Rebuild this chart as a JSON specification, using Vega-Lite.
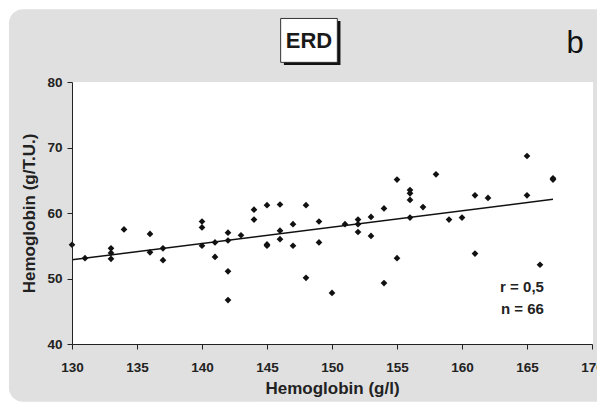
{
  "$schema": "https://vega.github.io/schema/vega-lite/v6.json",
  "width": 520,
  "height": 262,
  "autosize": {"type": "none"},
  "padding": {"left": 72, "top": 82, "right": 5, "bottom": 63},
  "background": "white",
  "config": {
    "view": {"stroke": null},
    "font": "Liberation Sans",
    "axis": {
      "grid": false,
      "domainColor": "#222222",
      "tickColor": "#222222",
      "tickSize": 5,
      "labelFont": "Liberation Sans",
      "labelFontWeight": "bold",
      "labelFontSize": 13.5,
      "labelColor": "#222222",
      "titleFont": "Liberation Sans",
      "titleFontWeight": "bold",
      "titleFontSize": 17,
      "titleColor": "#222222"
    }
  },
  "datasets": {
    "points": [
      {"hb": 130, "hbtu": 55.15}, {"hb": 131, "hbtu": 53.1}, {"hb": 133, "hbtu": 54.6},
      {"hb": 133, "hbtu": 53.9}, {"hb": 133, "hbtu": 53.0}, {"hb": 134, "hbtu": 57.5},
      {"hb": 136, "hbtu": 56.8}, {"hb": 136, "hbtu": 54.0}, {"hb": 137, "hbtu": 54.6},
      {"hb": 137, "hbtu": 52.8}, {"hb": 140, "hbtu": 58.7}, {"hb": 140, "hbtu": 57.8},
      {"hb": 140, "hbtu": 55.0}, {"hb": 141, "hbtu": 55.5}, {"hb": 141, "hbtu": 53.3},
      {"hb": 142, "hbtu": 57.0}, {"hb": 142, "hbtu": 55.8}, {"hb": 142, "hbtu": 51.1},
      {"hb": 142, "hbtu": 46.7}, {"hb": 143, "hbtu": 56.6}, {"hb": 144, "hbtu": 60.5},
      {"hb": 144, "hbtu": 59.0}, {"hb": 145, "hbtu": 61.2}, {"hb": 145, "hbtu": 55.2},
      {"hb": 145, "hbtu": 55.0}, {"hb": 146, "hbtu": 61.3}, {"hb": 146, "hbtu": 57.3},
      {"hb": 146, "hbtu": 56.0}, {"hb": 147, "hbtu": 58.3}, {"hb": 147, "hbtu": 55.0},
      {"hb": 148, "hbtu": 61.2}, {"hb": 148, "hbtu": 50.1}, {"hb": 149, "hbtu": 58.7},
      {"hb": 149, "hbtu": 55.5}, {"hb": 150, "hbtu": 47.8}, {"hb": 151, "hbtu": 58.3},
      {"hb": 152, "hbtu": 59.0}, {"hb": 152, "hbtu": 58.3}, {"hb": 152, "hbtu": 57.1},
      {"hb": 153, "hbtu": 59.4}, {"hb": 153, "hbtu": 56.5}, {"hb": 154, "hbtu": 60.7},
      {"hb": 154, "hbtu": 49.3}, {"hb": 155, "hbtu": 65.1}, {"hb": 155, "hbtu": 53.1},
      {"hb": 156, "hbtu": 63.5}, {"hb": 156, "hbtu": 63.0}, {"hb": 156, "hbtu": 62.0},
      {"hb": 156, "hbtu": 59.3}, {"hb": 157, "hbtu": 60.9}, {"hb": 158, "hbtu": 65.9},
      {"hb": 159, "hbtu": 59.0}, {"hb": 160, "hbtu": 59.3}, {"hb": 161, "hbtu": 62.7},
      {"hb": 161, "hbtu": 53.8}, {"hb": 162, "hbtu": 62.3}, {"hb": 165, "hbtu": 68.7},
      {"hb": 165, "hbtu": 62.7}, {"hb": 166, "hbtu": 52.1}, {"hb": 167, "hbtu": 65.3},
      {"hb": 167, "hbtu": 65.1}
    ],
    "fit": [
      {"hb": 130, "hbtu": 52.85},
      {"hb": 167, "hbtu": 62.1}
    ],
    "one": [{}]
  },
  "layer": [
    {
      "data": {"name": "one"},
      "mark": {"type": "rect", "fill": "#e0e0e0", "cornerRadius": 14, "clip": false},
      "encoding": {
        "x": {"datum": 125.15, "type": "quantitative", "scale": {"domain": [130, 170], "nice": false, "zero": false}},
        "x2": {"datum": 171.5},
        "y": {"datum": 91.1, "type": "quantitative", "scale": {"domain": [40, 80], "nice": false, "zero": false}},
        "y2": {"datum": 31.2}
      }
    },
    {
      "data": {"name": "one"},
      "mark": {"type": "rect", "fill": "white", "clip": false},
      "encoding": {
        "x": {"datum": 130, "type": "quantitative", "scale": {"domain": [130, 170], "nice": false, "zero": false}},
        "x2": {"datum": 170.08},
        "y": {"datum": 80, "type": "quantitative", "scale": {"domain": [40, 80], "nice": false, "zero": false}},
        "y2": {"datum": 40}
      }
    },
    {
      "data": {"name": "one"},
      "mark": {"type": "rect", "fill": "#111111", "clip": false},
      "encoding": {
        "x": {"datum": 146.3, "type": "quantitative", "scale": {"domain": [130, 170], "nice": false, "zero": false}},
        "x2": {"datum": 150.65},
        "y": {"datum": 89.3, "type": "quantitative", "scale": {"domain": [40, 80], "nice": false, "zero": false}},
        "y2": {"datum": 82.6}
      }
    },
    {
      "data": {"name": "one"},
      "mark": {"type": "rect", "fill": "white", "stroke": "#333333", "strokeWidth": 1, "clip": false},
      "encoding": {
        "x": {"datum": 146.05, "type": "quantitative", "scale": {"domain": [130, 170], "nice": false, "zero": false}},
        "x2": {"datum": 150.41},
        "y": {"datum": 89.7, "type": "quantitative", "scale": {"domain": [40, 80], "nice": false, "zero": false}},
        "y2": {"datum": 83.0}
      }
    },
    {
      "data": {"name": "one"},
      "mark": {"type": "text", "text": "ERD", "font": "Liberation Sans", "fontWeight": "bold", "fontSize": 22, "color": "#1a1a1a", "align": "center", "baseline": "alphabetic", "clip": false},
      "encoding": {
        "x": {"datum": 148.23, "type": "quantitative", "scale": {"domain": [130, 170], "nice": false, "zero": false}},
        "y": {"datum": 85.15, "type": "quantitative", "scale": {"domain": [40, 80], "nice": false, "zero": false}}
      }
    },
    {
      "data": {"name": "one"},
      "mark": {"type": "text", "text": "b", "font": "Liberation Sans", "fontSize": 31, "color": "#111111", "align": "center", "baseline": "alphabetic", "clip": false},
      "encoding": {
        "x": {"datum": 168.7, "type": "quantitative", "scale": {"domain": [130, 170], "nice": false, "zero": false}},
        "y": {"datum": 84.4, "type": "quantitative", "scale": {"domain": [40, 80], "nice": false, "zero": false}}
      }
    },
    {
      "data": {"name": "one"},
      "mark": {"type": "text", "text": ["r = 0,5", "n = 66"], "lineHeight": 22, "font": "Liberation Sans", "fontWeight": "bold", "fontSize": 15, "color": "#222222", "align": "right", "baseline": "alphabetic"},
      "encoding": {
        "x": {"datum": 166.3, "type": "quantitative", "scale": {"domain": [130, 170], "nice": false, "zero": false}},
        "y": {"datum": 47.9, "type": "quantitative", "scale": {"domain": [40, 80], "nice": false, "zero": false}}
      }
    },
    {
      "data": {"name": "fit"},
      "mark": {"type": "line", "color": "#111111", "strokeWidth": 1.5},
      "encoding": {
        "x": {"field": "hb", "type": "quantitative", "scale": {"domain": [130, 170], "nice": false, "zero": false}, "title": "Hemoglobin (g/l)"},
        "y": {"field": "hbtu", "type": "quantitative", "scale": {"domain": [40, 80], "nice": false, "zero": false}, "title": "Hemoglobin (g/T.U.)"}
      }
    },
    {
      "data": {"name": "points"},
      "mark": {"type": "point", "shape": "diamond", "filled": true, "color": "#111111", "size": 45, "opacity": 1},
      "encoding": {
        "x": {
          "field": "hb", "type": "quantitative",
          "scale": {"domain": [130, 170], "nice": false, "zero": false},
          "axis": {"values": [130, 135, 140, 145, 150, 155, 160, 165, 170], "labelPadding": 11, "titlePadding": 7, "labelFlush": false, "labelOverlap": false, "zindex": 1},
          "title": "Hemoglobin (g/l)"
        },
        "y": {
          "field": "hbtu", "type": "quantitative",
          "scale": {"domain": [40, 80], "nice": false, "zero": false},
          "axis": {"values": [40, 50, 60, 70, 80], "labelPadding": 5, "titlePadding": 8, "zindex": 1},
          "title": "Hemoglobin (g/T.U.)"
        }
      }
    }
  ]
}
